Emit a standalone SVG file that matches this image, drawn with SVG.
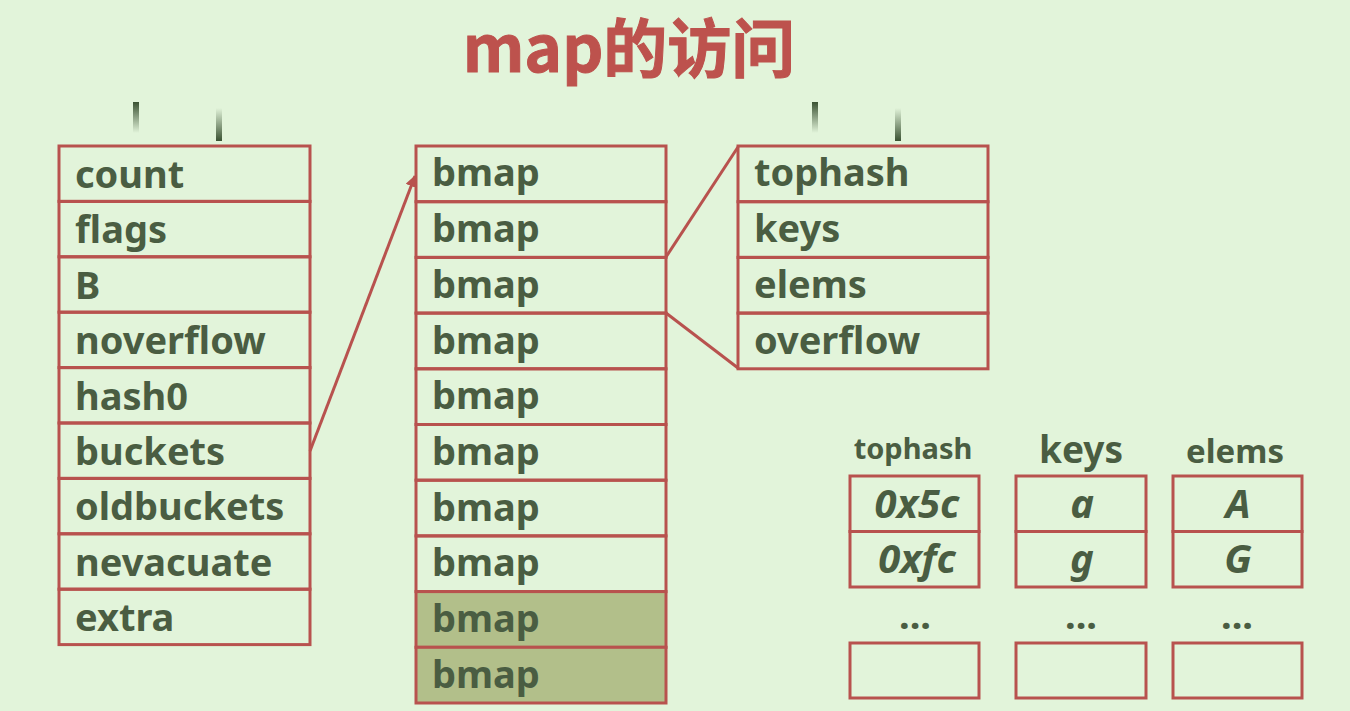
<svg xmlns="http://www.w3.org/2000/svg" width="1350" height="711" viewBox="0 0 1350 711">
<style>
.cell{fill:none;stroke:#B8524E;stroke-width:3}
.fill{fill:#B2BF8A;stroke:#B8524E;stroke-width:3}
.t{font-family:"Noto Sans","Open Sans",sans-serif;font-weight:bold;font-size:38px;fill:#4A5D42}
.v{font-family:"Noto Sans","Open Sans",sans-serif;font-weight:bold;font-style:italic;font-size:40px;fill:#4A5D42;text-anchor:middle}
.h{font-family:"Noto Sans","Open Sans",sans-serif;font-weight:bold;fill:#4A5D42;text-anchor:middle}
.conn{fill:none;stroke:#B8524E;stroke-width:3}
</style>
<defs>
<linearGradient id="gdown" x1="0" y1="0" x2="0" y2="1"><stop offset="0" stop-color="#3A5232"/><stop offset="1" stop-color="#3A5232" stop-opacity="0"/></linearGradient>
<linearGradient id="gup" x1="0" y1="1" x2="0" y2="0"><stop offset="0" stop-color="#3A5232"/><stop offset="1" stop-color="#3A5232" stop-opacity="0"/></linearGradient>
<marker id="arr" viewBox="0 0 10 10" refX="9" refY="5" markerWidth="4" markerHeight="4" orient="auto"><path d="M0,0 L10,5 L0,10 z" fill="#B8524E"/></marker>
</defs>
<rect width="1350" height="711" fill="#E2F4DA"/>
<text x="629" y="72" font-family="'Noto Sans CJK SC',sans-serif" font-weight="bold" font-size="64" fill="#BD524D" stroke="#BD524D" stroke-width="1" text-anchor="middle">map的访问</text>
<g id="ticks">
<rect x="133" y="102" width="6" height="31" fill="url(#gdown)"/>
<rect x="216" y="108" width="6" height="33" fill="url(#gup)"/>
<rect x="812" y="102" width="6" height="31" fill="url(#gdown)"/>
<rect x="895" y="108" width="6" height="33" fill="url(#gup)"/>
</g>
<g id="hmap">
<rect class="cell" x="59" y="146" width="251" height="55.4"/>
<rect class="cell" x="59" y="201.4" width="251" height="55.4"/>
<rect class="cell" x="59" y="256.8" width="251" height="55.4"/>
<rect class="cell" x="59" y="312.2" width="251" height="55.4"/>
<rect class="cell" x="59" y="367.6" width="251" height="55.4"/>
<rect class="cell" x="59" y="423" width="251" height="55.4"/>
<rect class="cell" x="59" y="478.4" width="251" height="55.4"/>
<rect class="cell" x="59" y="533.8" width="251" height="55.4"/>
<rect class="cell" x="59" y="589.2" width="251" height="55.4"/>
<text class="t" x="75" y="188">count</text>
<text class="t" x="75" y="243">flags</text>
<text class="t" x="75" y="299">B</text>
<text class="t" x="75" y="354">noverflow</text>
<text class="t" x="75" y="410">hash0</text>
<text class="t" x="75" y="465">buckets</text>
<text class="t" x="75" y="520">oldbuckets</text>
<text class="t" x="75" y="576">nevacuate</text>
<text class="t" x="75" y="631">extra</text>
</g>
<g id="buckets">
<rect class="cell" x="416" y="146" width="250" height="55.7"/>
<rect class="cell" x="416" y="201.7" width="250" height="55.7"/>
<rect class="cell" x="416" y="257.4" width="250" height="55.7"/>
<rect class="cell" x="416" y="313.1" width="250" height="55.7"/>
<rect class="cell" x="416" y="368.8" width="250" height="55.7"/>
<rect class="cell" x="416" y="424.5" width="250" height="55.7"/>
<rect class="cell" x="416" y="480.2" width="250" height="55.7"/>
<rect class="cell" x="416" y="535.9" width="250" height="55.7"/>
<rect class="fill" x="416" y="591.6" width="250" height="55.7"/>
<rect class="fill" x="416" y="647.3" width="250" height="55.7"/>
<text class="t" x="432" y="186">bmap</text>
<text class="t" x="432" y="242">bmap</text>
<text class="t" x="432" y="298">bmap</text>
<text class="t" x="432" y="354">bmap</text>
<text class="t" x="432" y="409">bmap</text>
<text class="t" x="432" y="465">bmap</text>
<text class="t" x="432" y="521">bmap</text>
<text class="t" x="432" y="576">bmap</text>
<text class="t" x="432" y="632">bmap</text>
<text class="t" x="432" y="688">bmap</text>
</g>
<g id="bmap">
<rect class="cell" x="738" y="146" width="250" height="55.7"/>
<rect class="cell" x="738" y="201.7" width="250" height="55.7"/>
<rect class="cell" x="738" y="257.4" width="250" height="55.7"/>
<rect class="cell" x="738" y="313.1" width="250" height="55.7"/>
<text class="t" x="754" y="186">tophash</text>
<text class="t" x="754" y="242">keys</text>
<text class="t" x="754" y="298">elems</text>
<text class="t" x="754" y="354">overflow</text>
</g>
<g id="connectors">
<line class="conn" x1="310" y1="451" x2="415" y2="176" marker-end="url(#arr)"/>
<line class="conn" x1="666" y1="257" x2="738" y2="147"/>
<line class="conn" x1="666" y1="313" x2="738" y2="368"/>
</g>
<g id="tophash-col">
<text class="h" x="913" y="459" font-size="29">tophash</text>
<rect class="cell" x="850" y="476" width="129" height="55.5"/>
<rect class="cell" x="850" y="531.5" width="129" height="55.5"/>
<text class="v" x="917" y="518">0x5c</text>
<text class="v" x="917" y="573">0xfc</text>
<text class="h" x="915" y="629" font-size="38">...</text>
<rect class="cell" x="850" y="643" width="129" height="55"/>
</g>
<g id="keys-col">
<text class="h" x="1081" y="463" font-size="37">keys</text>
<rect class="cell" x="1016" y="476" width="130" height="55.5"/>
<rect class="cell" x="1016" y="531.5" width="130" height="55.5"/>
<text class="v" x="1082" y="518">a</text>
<text class="v" x="1082" y="573">g</text>
<text class="h" x="1081" y="629" font-size="38">...</text>
<rect class="cell" x="1016" y="643" width="130" height="55"/>
</g>
<g id="elems-col">
<text class="h" x="1235" y="463" font-size="33">elems</text>
<rect class="cell" x="1173" y="476" width="129" height="55.5"/>
<rect class="cell" x="1173" y="531.5" width="129" height="55.5"/>
<text class="v" x="1238" y="518">A</text>
<text class="v" x="1238" y="573">G</text>
<text class="h" x="1237" y="629" font-size="38">...</text>
<rect class="cell" x="1173" y="643" width="129" height="55"/>
</g>
</svg>
